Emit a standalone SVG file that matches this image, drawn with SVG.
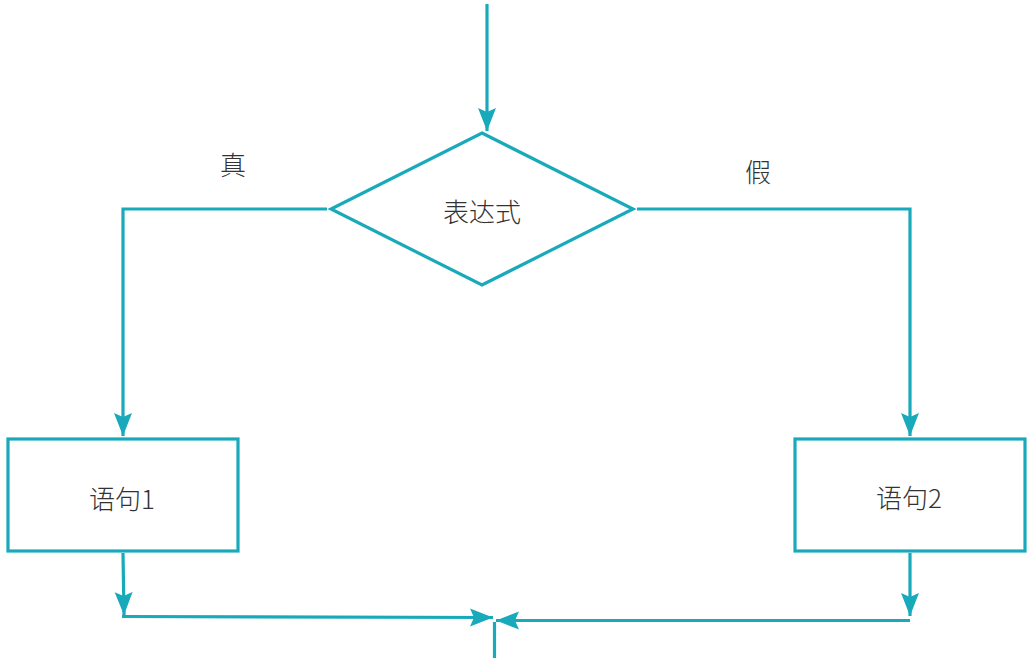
<svg xmlns="http://www.w3.org/2000/svg" width="1036" height="658" viewBox="0 0 1036 658">
  <defs>
    <marker id="arr" markerUnits="userSpaceOnUse" markerWidth="26" markerHeight="20" viewBox="0 0 26 20" refX="23" refY="10" orient="auto">
      <path d="M0,1 L23,10 L0,19 L4,10 Z" fill="#18AABB"/>
    </marker>
  </defs>
  <style>
    .ln { fill: none; stroke: #18AABB; stroke-width: 3.2; }
    .shape { fill: #FFFFFF; stroke: #18AABB; stroke-width: 3.2; }
    .txt { font-family: "Noto Sans CJK SC", "Noto Sans", sans-serif; font-size: 26px; font-weight: 300; fill: #333333; text-anchor: middle; dominant-baseline: central; }
  </style>
  <rect width="1036" height="658" fill="#FFFFFF"/>
  <g id="connectors">
    <path class="ln" d="M487,4 L487,131" marker-end="url(#arr)"/>
    <path class="ln" d="M327,209 L123,209 L123,436" marker-end="url(#arr)"/>
    <path class="ln" d="M637,209 L910,209 L910,436" marker-end="url(#arr)"/>
    <path class="ln" d="M123,553 L124,615" marker-end="url(#arr)"/>
    <path class="ln" d="M910,553 L910,616" marker-end="url(#arr)"/>
    <path class="ln" d="M122,616.5 L493,617.5" marker-end="url(#arr)"/>
    <path class="ln" d="M910,620.5 L496,620.5" marker-end="url(#arr)"/>
    <path class="ln" d="M494.5,622 L494.5,658"/>
    <text class="txt" x="233" y="163">真</text>
    <text class="txt" x="758" y="170">假</text>
  </g>
  <g id="decision">
    <polygon class="shape" points="482,133 633,209 482,285 331,209"/>
    <text class="txt" x="482" y="210">表达式</text>
  </g>
  <g id="stmt1">
    <rect class="shape" x="8" y="439" width="230" height="112"/>
    <text class="txt" x="122" y="497">语句1</text>
  </g>
  <g id="stmt2">
    <rect class="shape" x="795" y="439" width="230" height="112"/>
    <text class="txt" x="909" y="496">语句2</text>
  </g>
</svg>
